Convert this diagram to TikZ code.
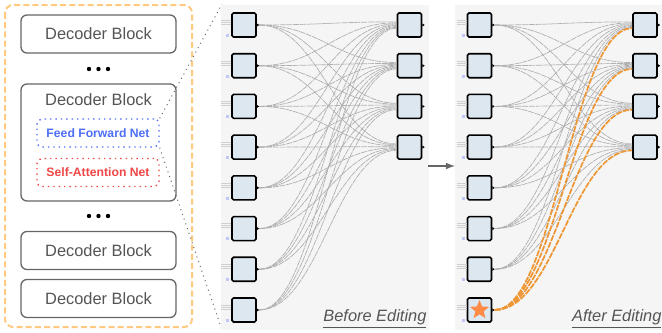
\documentclass[tikz,border=0pt]{standalone}
\usepackage{fontspec}
\setmainfont{Liberation Sans}
\usetikzlibrary{calc,shapes.geometric}

\definecolor{blockgray}{HTML}{666666}
\definecolor{blocktext}{HTML}{555555}
\definecolor{frameorange}{HTML}{FFC97F}
\definecolor{ffblue}{HTML}{4F6EF7}
\definecolor{sared}{HTML}{F04848}
\definecolor{panelbg}{HTML}{F5F5F5}
\definecolor{cellfill}{HTML}{DDE7EF}
\definecolor{wiregray}{HTML}{B0B0B0}
\definecolor{editorange}{HTML}{EE9633}
\definecolor{starorange}{HTML}{FF8A45}

\newcommand\OutPin[1]{% small black output triangle
  \fill ($(#1.east)+(0,1.6)$) -- ($(#1.east)+(2.4,0)$) -- ($(#1.east)+(0,-1.6)$) -- cycle;
}
\newcommand\InStub[1]{% faint input lines and port mark
  \foreach \dy in {-5,-3,-1}
    \draw[wiregray!60,line width=0.2pt] ($(#1.west)+(-10,\dy)$) -- ++(10,0);
  \fill[cellfill!70!blue!60] ($(#1.south west)+(-5,-1)$) rectangle ++(3,-3);
}

\tikzset{%
  >=latex, % option for nice arrows
  decoder/.style={draw=blockgray,line width=0.65pt,rounded corners=3pt,
    fill=white,minimum width=77.5pt,minimum height=19pt,text=blocktext,
    font=\fontsize{8.2}{9}\selectfont},
  sublayer/.style={dotted,line width=0.7pt,rounded corners=2.5pt,
    minimum width=61pt,minimum height=14pt,
    font=\bfseries\fontsize{6.1}{7}\selectfont},
  cell/.style={draw=black,line width=0.8pt,fill=cellfill,
    rounded corners=0.8pt,minimum size=12pt,inner sep=0pt},
  wire/.style={wiregray,line width=0.35pt,dash pattern=on 3pt off 0.4pt},
  edited wire/.style={editorange,line width=0.85pt,
    dash pattern=on 3pt off 0.6pt},
  caption/.style={anchor=south east,text=blocktext,inner sep=0.6pt,
    font=\itshape\fontsize{8.2}{9}\selectfont},
  bullet/.style={circle,fill=black,inner sep=0pt,minimum size=2.2pt}
}

\begin{document}
\begin{tikzpicture}[x=0.5pt,y=-0.5pt]

%% some definitions

\def\dY{40.71} % spacing of the cells
\def\bend{60} % length of the wire handles

\useasboundingbox (0,0) rectangle (662,332);

%% decoder stack

\draw[frameorange,line width=1pt,dash pattern=on 3pt off 1.6pt,
  rounded corners=4pt] (5,5) rectangle (192,327);
\node[decoder] (dec top) at (98.5,34) {Decoder Block};
\node[bullet] (dots1a) at (89,69) {};
\node[bullet] (dots1b) at (98.5,69) {};
\node[bullet] (dots1c) at (108,69) {};
\node[decoder,minimum height=58.5pt] (dec mid) at (98.5,142.5) {};
\node[text=blocktext,font=\fontsize{8.2}{9}\selectfont] (dec mid title)
  at (98.5,100) {Decoder Block};
\node[sublayer,draw=ffblue,text=ffblue] (ffn) at (98,133) {Feed Forward Net};
\node[sublayer,draw=sared,text=sared] (attn) at (98,172.5) {Self-Attention Net};
\node[bullet] (dots2a) at (89,216) {};
\node[bullet] (dots2b) at (98.5,216) {};
\node[bullet] (dots2c) at (108,216) {};
\node[decoder] (dec low) at (98.5,250.5) {Decoder Block};
\node[decoder] (dec bottom) at (98.5,298.5) {Decoder Block};

%% zoom lines and panels

\coordinate (zoom top) at (222,4);
\coordinate (zoom bottom) at (222,330);
\draw[blockgray,dotted,line width=0.5pt] (ffn.north east) -- (zoom top);
\draw[blockgray,dotted,line width=0.5pt] (ffn.south east) -- (zoom bottom);

\fill[panelbg] (221,5) rectangle (429,330);
\fill[panelbg] (455,5) rectangle (662,330);

%% cells

\foreach \i in {1,...,8} {
  \node[cell] (bl\i) at (244,{25+(\i-1)*\dY}) {};
  \node[cell] (al\i) at (479.5,{25+(\i-1)*\dY}) {};
  \InStub{bl\i}
  \InStub{al\i}
  \OutPin{bl\i}
  \OutPin{al\i}
}
\foreach \j in {1,...,4} {
  \node[cell] (br\j) at (409.5,{25+(\j-1)*\dY}) {};
  \node[cell] (ar\j) at (645,{25+(\j-1)*\dY}) {};
  \OutPin{br\j}
  \OutPin{ar\j}
}
\node[star,star points=5,star point ratio=2.3,fill=starorange,
  minimum size=10pt,inner sep=0pt] (edited) at (al8) {};

%% wires

\foreach \i in {1,...,8}
  \foreach \j in {1,...,4} {
    \pgfmathsetmacro\off{(\i-4.5)*0.9}
    \draw[wire] ($(bl\i.east)+(2.4,0)$) .. controls +(\bend,0) and +(-\bend,0)
      .. ($(br\j.west)+(0,\off)$);
  }
\foreach \i in {1,...,7}
  \foreach \j in {1,...,4} {
    \pgfmathsetmacro\off{(\i-4.5)*0.9}
    \draw[wire] ($(al\i.east)+(2.4,0)$) .. controls +(\bend,0) and +(-\bend,0)
      .. ($(ar\j.west)+(0,\off)$);
  }
\foreach \j in {1,...,4}
  \draw[edited wire] ($(al8.east)+(2.4,0)$) .. controls +(\bend,0) and +(-\bend,0)
    .. ($(ar\j.west)+(0,3.2)$);

%% labels

\coordinate (arrow start) at (428,166);
\coordinate (arrow end) at (455,166);
\draw[->,blockgray,line width=0.6pt] (arrow start) -- (arrow end);
\node[caption] (before) at (428,330) {\underline{Before Editing}};
\node[caption] (after) at (663,330) {\underline{After Editing}};

\end{tikzpicture}
\end{document}
